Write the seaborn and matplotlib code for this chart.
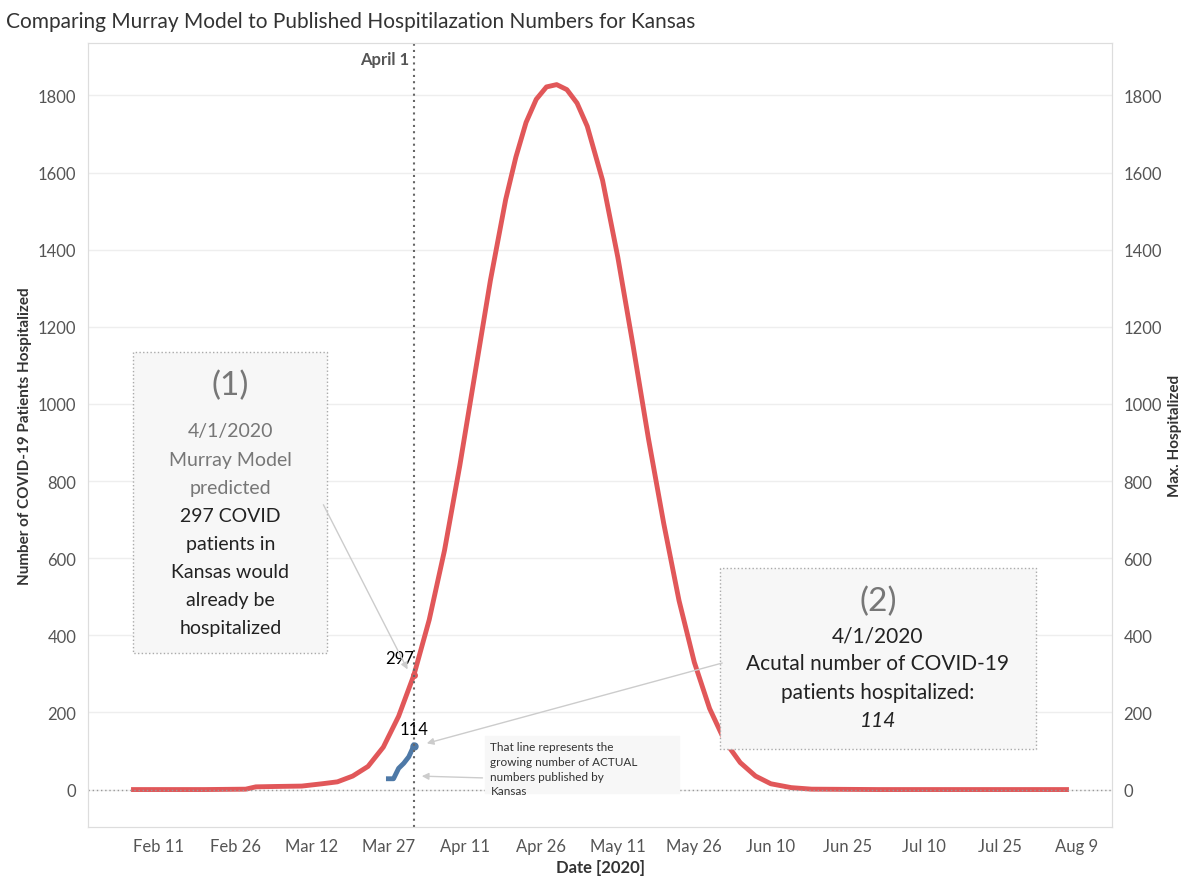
import matplotlib
matplotlib.use("Agg")
import matplotlib.pyplot as plt
import seaborn as sns
import pandas as pd

plt.rcParams["font.family"] = "Lato"

model_dates = ["2020-02-06","2020-02-20","2020-02-28","2020-03-01","2020-03-05","2020-03-10","2020-03-14","2020-03-17",
               "2020-03-20","2020-03-23","2020-03-26","2020-03-29","2020-04-01","2020-04-04","2020-04-07","2020-04-10",
               "2020-04-13","2020-04-16","2020-04-19","2020-04-21","2020-04-23","2020-04-25","2020-04-27","2020-04-29",
               "2020-05-01","2020-05-03","2020-05-05","2020-05-08","2020-05-11","2020-05-14","2020-05-17","2020-05-20",
               "2020-05-23","2020-05-26","2020-05-29","2020-06-01","2020-06-04","2020-06-07","2020-06-10","2020-06-14",
               "2020-06-18","2020-07-01","2020-08-07"]
model_values = [0,0,1,7,8,9,15,20,
                35,60,110,190,297,440,620,840,
                1080,1320,1530,1640,1730,1790,1822,1828,
                1815,1780,1720,1580,1380,1150,910,690,
                490,330,210,125,70,35,15,5,
                1,0,0]
actual_dates = ["2020-03-27","2020-03-28","2020-03-29","2020-03-30","2020-03-31","2020-04-01"]
actual_values = [28,28,55,68,85,114]

df_m = pd.DataFrame({"date": pd.to_datetime(model_dates), "v": model_values})
df_a = pd.DataFrame({"date": pd.to_datetime(actual_dates), "v": actual_values})

fig = plt.figure(figsize=(12, 8.87), dpi=100)
ax = fig.add_axes([0.073, 0.067, 0.854, 0.883])
sns.lineplot(data=df_m, x="date", y="v", ax=ax, color="#e15759", lw=3.5)
sns.lineplot(data=df_a, x="date", y="v", ax=ax, color="#4e79a7", lw=3.5)
apr1 = pd.Timestamp("2020-04-01")
ax.plot([apr1], [297], "o", color="#e15759", ms=4)
ax.plot([apr1], [114], "o", color="#4e79a7", ms=5)

ax.set_xlim(pd.Timestamp("2020-01-28"), pd.Timestamp("2020-08-16"))
ax.set_ylim(-96, 1935)
ticks = pd.date_range("2020-02-11", "2020-08-09", freq="15D")
ax.set_xticks(ticks)
ax.set_xticklabels([f"{t:%b} {t.day}" for t in ticks])
ax.set_yticks(range(0, 1801, 200))
ax.grid(axis="y", color="#eeeeee", lw=1)
ax.axhline(0, color="#999999", lw=1, ls=(0, (1, 2)))
ax.axvline(apr1, color="#666666", lw=1.5, ls=(0, (1, 2)))
for s in ax.spines.values():
    s.set_color("#dddddd")
ax.tick_params(length=0, labelsize=12, colors="#555555", pad=8)
ax.set_xlabel("Date [2020]", fontsize=12, fontweight="bold", color="#333333")
ax.set_ylabel("Number of COVID-19 Patients Hospitalized", fontsize=11, fontweight="bold", color="#333333")
ax2 = ax.twinx()
ax2.set_ylim(ax.get_ylim())
ax2.set_yticks(range(0, 1801, 200))
ax2.tick_params(length=0, labelsize=12, colors="#555555", pad=8)
for s in ax2.spines.values():
    s.set_color("#dddddd")
ax2.set_ylabel("Max. Hospitalized", fontsize=11, fontweight="bold", color="#333333")

ax.text(apr1 - pd.Timedelta(days=1), 1895, "April 1", ha="right", va="center", fontsize=12, fontweight="bold", color="#555555")
fig.text(0.005, 0.975, "Comparing Murray Model to Published Hospitilazation Numbers for Kansas", fontsize=15, color="#333333", va="center")

ax.text(apr1, 320, "297", ha="right", va="bottom", fontsize=12)
ax.text(apr1, 135, "114", ha="center", va="bottom", fontsize=12)

# box 1
b1x0, b1x1 = pd.Timestamp("2020-02-06"), pd.Timestamp("2020-03-15")
ax.fill_between([b1x0, b1x1], 355, 1135, color="#f7f7f7", ec="#aaaaaa", ls=":", zorder=3)
xm = b1x0 + (b1x1 - b1x0) / 2
ax.text(xm, 1050, "(1)", ha="center", va="center", fontsize=24, color="#777777", zorder=4)
grey_lines = ["4/1/2020", "Murray Model", "predicted"]
dark_lines = ["297 COVID", "patients in", "Kansas would", "already be", "hospitalized"]
for i, t in enumerate(grey_lines):
    ax.text(xm, 930 - 73 * i, t, ha="center", va="center", fontsize=14, color="#777777", zorder=4)
for i, t in enumerate(dark_lines):
    ax.text(xm, 711 - 73 * i, t, ha="center", va="center", fontsize=14, color="#222222", zorder=4)
ax.annotate("", xy=(apr1 - pd.Timedelta(days=1), 305), xytext=(pd.Timestamp("2020-03-14"), 745),
            arrowprops=dict(arrowstyle="-|>", color="#cccccc", lw=1), zorder=5)

# box 2
b2x0, b2x1 = pd.Timestamp("2020-05-31"), pd.Timestamp("2020-08-01")
ax.fill_between([b2x0, b2x1], 105, 575, color="#f7f7f7", ec="#aaaaaa", ls=":", zorder=3)
xm2 = b2x0 + (b2x1 - b2x0) / 2
ax.text(xm2, 490, "(2)", ha="center", va="center", fontsize=24, color="#777777", zorder=4)
for i, t in enumerate(["4/1/2020", "Acutal number of COVID-19", "patients hospitalized:"]):
    ax.text(xm2, 400 - 73 * i, t, ha="center", va="center", fontsize=15, color="#222222", zorder=4)
ax.text(xm2, 180, "114", ha="center", va="center", fontsize=15, style="italic", color="#222222", zorder=4)
ax.annotate("", xy=(apr1 + pd.Timedelta(days=2), 118), xytext=(b2x0 + pd.Timedelta(days=1), 330),
            arrowprops=dict(arrowstyle="-|>", color="#cccccc", lw=1), zorder=5)

# box 3
b3x0, b3x1 = pd.Timestamp("2020-04-15"), pd.Timestamp("2020-05-23")
ax.fill_between([b3x0, b3x1], -10, 140, color="#f7f7f7", zorder=3)
ax.text(b3x0 + pd.Timedelta(days=1), 125, "That line represents the\ngrowing number of ACTUAL\nnumbers published by\nKansas", ha="left", va="top", fontsize=8.5, color="#333333", linespacing=1.4, zorder=4)
ax.annotate("", xy=(apr1 + pd.Timedelta(days=1), 35), xytext=(b3x0, 30),
            arrowprops=dict(arrowstyle="-|>", color="#cccccc", lw=1), zorder=5)

fig.savefig("out.png", dpi=100, facecolor="white")
